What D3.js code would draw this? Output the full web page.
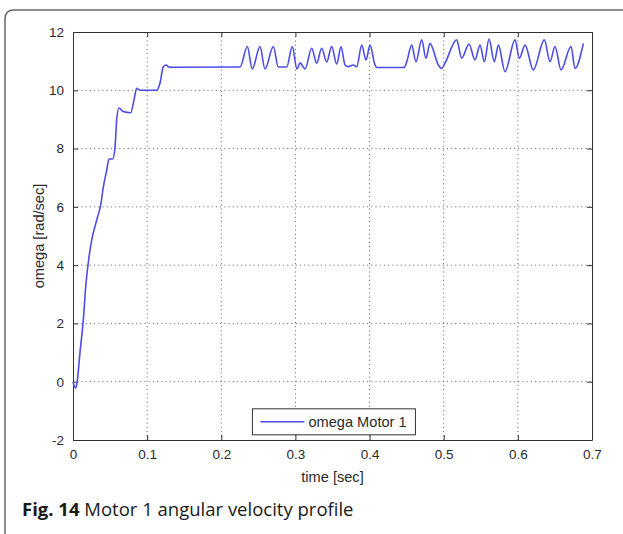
<!DOCTYPE html>
<html>
<head>
<meta charset="utf-8">
<script src="https://cdn.jsdelivr.net/npm/d3@7"></script>
<style>
  body { margin: 0; background: #fff; }
  svg text { font-family: "Liberation Sans", Arial, sans-serif; fill: #2a2a2a; }
</style>
</head>
<body>
<div id="chart"></div>
<script>
var svgWidth = 623;
var svgHeight = 534;

var margin = { top: 32, right: 31, bottom: 94, left: 73 };
var width = svgWidth - margin.left - margin.right;
var height = svgHeight - margin.top - margin.bottom;

// data
var timeSec = [0, 0.0034, 0.0054, 0.0094, 0.0139, 0.0171, 0.0216, 0.0252, 0.032, 0.0378,
  0.0409, 0.0455, 0.0486, 0.0535, 0.0567, 0.0589, 0.062, 0.0674, 0.0778, 0.0823,
  0.0859, 0.0904, 0.1129, 0.1173, 0.1218, 0.1254, 0.1299, 0.2253,
  0.2351, 0.2418, 0.2522, 0.259, 0.2702, 0.2769, 0.2882, 0.2958, 0.3021, 0.3062,
  0.3129, 0.322, 0.3287, 0.3354, 0.3422, 0.3489, 0.3557, 0.3615, 0.3669, 0.3713,
  0.3781, 0.3827, 0.3894, 0.3952, 0.4006, 0.4073, 0.41, 0.4465, 0.4501, 0.4568,
  0.4626, 0.4703, 0.4761, 0.4815, 0.4927, 0.4973, 0.5017, 0.5175, 0.5243, 0.5341,
  0.5422, 0.549, 0.5548, 0.5611, 0.5683, 0.5737, 0.5827, 0.5962, 0.602, 0.6097,
  0.6208, 0.6357, 0.6434, 0.6501, 0.6582, 0.6717, 0.6771, 0.6883];
var omega = [0, -0.22, -0.05, 1.0, 2.12, 3.25, 4.28, 4.86, 5.55, 6.13,
  6.68, 7.26, 7.64, 7.64, 8.05, 8.98, 9.39, 9.27, 9.23, 9.67,
  10.07, 10.0, 10.0, 10.24, 10.81, 10.87, 10.79, 10.8,
  11.5, 10.73, 11.5, 10.73, 11.5, 10.8, 10.8, 11.5, 10.73, 10.94,
  10.73, 11.44, 10.93, 11.44, 10.97, 11.5, 10.9, 11.49, 10.87, 10.81,
  10.87, 10.81, 11.55, 11.04, 11.55, 10.87, 10.78, 10.78, 10.98, 11.55,
  10.98, 11.73, 11.1, 11.61, 10.87, 10.75, 10.93, 11.73, 11.1, 11.59,
  11.04, 11.55, 10.98, 11.76, 10.98, 11.55, 10.64, 11.73, 11.1, 11.55,
  10.7, 11.73, 10.98, 11.5, 10.7, 11.5, 10.75, 11.61];

var xTicks = [0, 0.1, 0.2, 0.3, 0.4, 0.5, 0.6, 0.7];
var yTicks = [-2, 0, 2, 4, 6, 8, 10, 12];
var seriesName = "omega Motor 1";

var data = timeSec.map((t, i) => ({ t: t, w: omega[i] }));

var svg = d3.select("#chart")
  .append("svg")
  .attr("width", svgWidth)
  .attr("height", svgHeight);

// outer figure frame (rounded top-left corner, open at right/bottom)
svg.append("path")
  .attr("d", "M623,10 L14,10 Q5,10 5,19 L5,534")
  .attr("fill", "none")
  .attr("stroke", "#666")
  .attr("stroke-width", 1.5);

var chartGroup = svg.append("g")
  .attr("transform", `translate(${margin.left}, ${margin.top})`);

var xScale = d3.scaleLinear().domain([0, 0.7]).range([0, width]);
var yScale = d3.scaleLinear().domain([-2, 12]).range([height, 0]);

// dotted grid
chartGroup.append("g")
  .selectAll("line")
  .data(xTicks.slice(1, -1))
  .enter()
  .append("line")
  .attr("x1", d => xScale(d)).attr("x2", d => xScale(d))
  .attr("y1", 0).attr("y2", height)
  .attr("stroke", "#777")
  .attr("stroke-dasharray", "1.2,3");

chartGroup.append("g")
  .selectAll("line")
  .data(yTicks.slice(1, -1))
  .enter()
  .append("line")
  .attr("y1", d => yScale(d)).attr("y2", d => yScale(d))
  .attr("x1", 0).attr("x2", width)
  .attr("stroke", "#777")
  .attr("stroke-dasharray", "1.2,3");

// axes, matlab style with inward ticks
function styleAxis(g) {
  g.select(".domain").attr("stroke", "#333");
  g.selectAll(".tick line").attr("stroke", "#333");
  g.selectAll(".tick text").style("font-size", "13.5px").attr("fill", "#2a2a2a");
}

var plainNum = d => String(d);

chartGroup.append("g")
  .attr("transform", `translate(0, ${height})`)
  .call(d3.axisBottom(xScale).tickValues(xTicks).tickFormat(plainNum).tickSizeInner(-5).tickSizeOuter(0).tickPadding(9))
  .call(styleAxis);

chartGroup.append("g")
  .call(d3.axisLeft(yScale).tickValues(yTicks).tickFormat(plainNum).tickSizeInner(-5).tickSizeOuter(0).tickPadding(9))
  .call(styleAxis);

chartGroup.append("g")
  .call(d3.axisTop(xScale).tickValues(xTicks).tickFormat("").tickSizeInner(-5).tickSizeOuter(0))
  .call(styleAxis);

chartGroup.append("g")
  .attr("transform", `translate(${width}, 0)`)
  .call(d3.axisRight(yScale).tickValues(yTicks).tickFormat("").tickSizeInner(-5).tickSizeOuter(0))
  .call(styleAxis);

// the curve
var line = d3.line()
  .x(d => xScale(d.t))
  .y(d => yScale(d.w))
  .curve(d3.curveMonotoneX);

chartGroup.append("path")
  .datum(data)
  .attr("d", line)
  .attr("fill", "none")
  .attr("stroke", "#4d4de6")
  .attr("stroke-width", 1.6);

// axis labels
chartGroup.append("text")
  .attr("x", width / 2)
  .attr("y", height + 42)
  .attr("text-anchor", "middle")
  .style("font-size", "14.6px")
  .text("time [sec]");

chartGroup.append("text")
  .attr("transform", "rotate(-90)")
  .attr("x", -height / 2)
  .attr("y", -29)
  .attr("text-anchor", "middle")
  .style("font-size", "14.6px")
  .text("omega [rad/sec]");

// legend
var legend = chartGroup.append("g")
  .attr("transform", `translate(${xScale(0.242)}, ${yScale(-0.93)})`);

legend.append("rect")
  .attr("width", 163)
  .attr("height", 26)
  .attr("fill", "#fff")
  .attr("stroke", "#333");

legend.append("line")
  .attr("x1", 8).attr("x2", 52)
  .attr("y1", 13).attr("y2", 13)
  .attr("stroke", "#4d4de6")
  .attr("stroke-width", 1.5);

legend.append("text")
  .attr("x", 56)
  .attr("y", 18)
  .style("font-size", "14.6px")
  .text(seriesName);

// caption
var caption = svg.append("text")
  .attr("x", 22)
  .attr("y", 516)
  .style("font-family", "'Open Sans', sans-serif")
  .style("font-size", "18.5px")
  .style("fill", "#1a1a1a");

caption.append("tspan").style("font-weight", "bold").text("Fig. 14");
caption.append("tspan").text(" Motor 1 angular velocity profile");
</script>
</body>
</html>
